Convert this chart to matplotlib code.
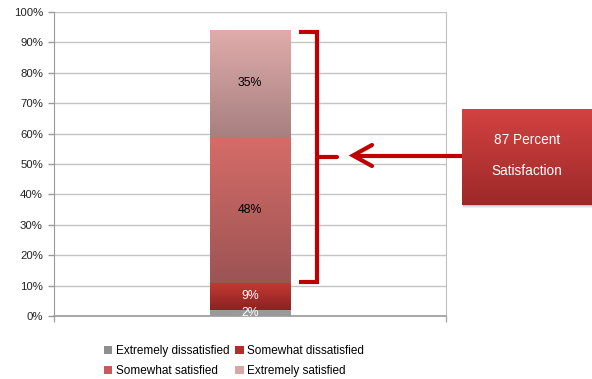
import numpy as np
import matplotlib
matplotlib.use("Agg")
import matplotlib.pyplot as plt
from matplotlib.colors import LinearSegmentedColormap
from matplotlib.patches import Rectangle, Patch
from matplotlib.lines import Line2D

plt.rcParams['font.family'] = ['Liberation Sans', 'DejaVu Sans']

categories = ["Extremely dissatisfied", "Somewhat dissatisfied",
              "Somewhat satisfied", "Extremely satisfied"]
values = [2, 9, 48, 35]
labels = ["2%", "9%", "48%", "35%"]
label_colors = ["white", "white", "black", "black"]
# gradient (top, bottom) per segment
grad_top = ["#9a9a9a", "#c43a33", "#d56c68", "#e0abab"]
grad_bot = ["#9a9a9a", "#8c2222", "#9c5454", "#a88080"]
legend_colors = ["#8f8f8f", "#b52b2b", "#c25c5c", "#d9a6a6"]
yticks = list(range(0, 101, 10))
callout = ["87 Percent", "Satisfaction"]

W, H = 592, 379
fig = plt.figure(figsize=(W / 100, H / 100), dpi=100)
L, R, T, B = 54, 446, 12, 316
ax = fig.add_axes([L / W, 1 - B / H, (R - L) / W, (B - T) / H])
ax.set_xlim(0, 1)
ax.set_ylim(0, 100)

# grid
ax.set_yticks(yticks)
ax.set_yticklabels([f"{v}%" for v in yticks], fontsize=8.2, color="#222222")
ax.yaxis.grid(True, color="#c4c4c4", linewidth=1.0)
ax.set_axisbelow(True)
ax.set_xticks([0, 1])
ax.set_xticklabels([])
ax.tick_params(axis="x", length=4, color="#a8a8a8", width=1.0)
ax.tick_params(axis="y", length=4, color="#9a9a9a", width=1.0, pad=4)
ax.spines["top"].set_visible(False)
ax.spines["right"].set_color("#c0c0c0")
ax.spines["left"].set_color("#9a9a9a")
ax.spines["bottom"].set_color("#9a9a9a")
ax.spines["bottom"].set_linewidth(1.2)

bar_x = 0.5
bar_w = 81 / 392
bottom = 0
for v, lab, lc, ct, cb in zip(values, labels, label_colors, grad_top, grad_bot):
    x0, x1 = bar_x - bar_w / 2, bar_x + bar_w / 2
    cmap = LinearSegmentedColormap.from_list("g", [cb, ct])
    grad = np.linspace(0, 1, 64).reshape(-1, 1)
    ax.imshow(grad, extent=(x0, x1, bottom, bottom + v), origin="lower",
              cmap=cmap, aspect="auto", zorder=2, interpolation="bilinear")
    ax.text(bar_x, bottom + v / 2, lab, ha="center", va="center",
            fontsize=8.8, color=lc, zorder=4)
    bottom += v
ax.set_xlim(0, 1)
ax.set_ylim(0, 100)

# figure-pixel helpers
def fx(px):
    return px / W
def fy(py):
    return 1 - py / H

red = "#c00000"
lw = 3.0
# bracket
fig.add_artist(Line2D([fx(299), fx(317), fx(317), fx(299)],
                      [fy(31.5), fy(31.5), fy(282), fy(282)],
                      color=red, lw=lw, solid_joinstyle="miter", solid_capstyle="butt"))
fig.add_artist(Line2D([fx(317), fx(337)], [fy(156.5), fy(156.5)],
                      color=red, lw=lw, solid_capstyle="round"))
# arrow
fig.add_artist(Line2D([fx(463), fx(353)], [fy(155.5), fy(155.5)],
                      color=red, lw=lw, solid_capstyle="butt"))
fig.add_artist(Line2D([fx(372), fx(353), fx(372)], [fy(145), fy(155.5), fy(166)],
                      color=red, lw=lw, solid_capstyle="round", solid_joinstyle="miter"))

# callout box with shadow (shadow below box)
bx0, bx1, by0, by1 = 462, 592, 109, 205
for k, a in [(3, 0.06), (2, 0.08), (1, 0.1)]:
    fig.add_artist(Rectangle((fx(bx0 + 1), fy(by1 + k)), fx(bx1 - bx0), fy(by0) - fy(by1),
                             facecolor="#000000", alpha=a, edgecolor="none", zorder=-5))
bax = fig.add_axes([fx(bx0), fy(by1), fx(bx1 - bx0), fy(by0) - fy(by1)])
bax.set_zorder(5)
bax.axis("off")
bcmap = LinearSegmentedColormap.from_list("b", ["#9e2828", "#d24242"])
bax.imshow(np.linspace(0, 1, 64).reshape(-1, 1), extent=(0, 1, 0, 1), origin="lower",
           cmap=bcmap, aspect="auto", interpolation="bilinear")
bax.set_xlim(0, 1)
bax.set_ylim(0, 1)
bax.text(0.5, 0.68, callout[0], ha="center", va="center", color="white", fontsize=9.8)
bax.text(0.5, 0.35, callout[1], ha="center", va="center", color="white", fontsize=9.8)

# legend (row-wise order: matplotlib fills column-wise, so reorder)
handles = [Patch(facecolor=c, edgecolor="none") for c in legend_colors]
order = [0, 2, 1, 3]
leg = fig.legend([handles[i] for i in order], [categories[i] for i in order],
                 loc="center", ncol=2,
                 bbox_to_anchor=(fx(234), fy(361)), frameon=False, fontsize=8.5,
                 handlelength=0.7, handleheight=0.7, handletextpad=0.3,
                 columnspacing=0.5, labelspacing=0.7)

fig.savefig("out.png", dpi=100)
